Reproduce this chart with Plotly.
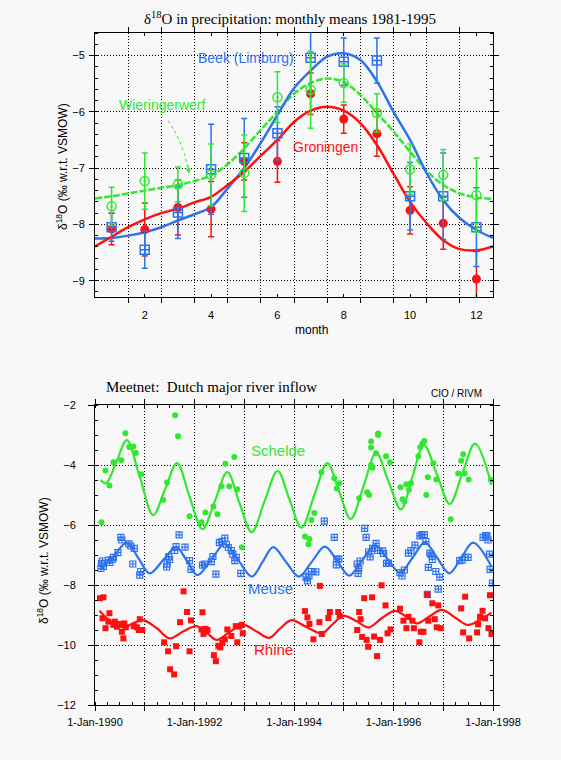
import plotly.graph_objects as go

# ---------------- top chart data (monthly means) ----------------
months = [1, 2, 3, 4, 5, 6, 7, 8, 9, 10, 11, 12]
beek = [-8.05, -8.45, -7.79, -7.02, -6.82, -6.38, -5.04, -5.11, -5.09, -7.50, -7.50, -8.05]
beek_err = [0.25, 0.33, 0.46, 0.80, 0.70, 0.47, 0.60, 0.42, 0.40, 0.60, 0.77, 0.70]
groningen = [-8.08, -8.09, -7.70, -7.73, -6.88, -6.88, -5.68, -6.13, -6.39, -7.75, -7.98, -8.97]
groningen_err = [0.28, 0.47, 0.49, 0.49, 0.33, 0.37, 0.37, 0.25, 0.40, 0.42, 0.46, 0.49]
wier = [-7.68, -7.23, -7.29, -7.12, -7.09, -5.74, -5.61, -5.49, -6.02, -7.02, -7.12, -7.48]
wier_err = [0.34, 0.50, 0.31, 0.55, 0.68, 0.45, 0.68, 0.34, 0.34, 0.45, 0.45, 0.66]

fit_month = [0.5, 1, 1.5, 2, 2.5, 3, 3.5, 4, 4.5, 5, 5.5, 6, 6.5, 7, 7.5, 8, 8.5, 9,
             9.5, 10, 10.5, 11, 11.5, 12, 12.5]
beek_fit = [-8.25, -8.24, -8.20, -8.14, -8.05, -7.93, -7.82, -7.69, -7.36, -7.00, -6.55,
            -6.06, -5.58, -5.27, -5.02, -4.96, -5.08, -5.46, -6.00, -6.50, -7.09, -7.57,
            -7.89, -8.10, -8.24]
groningen_fit = [-8.39, -8.22, -8.05, -7.91, -7.80, -7.72, -7.61, -7.51, -7.30, -7.07, -6.78,
                 -6.50, -6.18, -5.98, -5.91, -5.98, -6.20, -6.59, -7.10, -7.60, -7.98, -8.28,
                 -8.44, -8.46, -8.39]
wier_fit = [-7.54, -7.50, -7.45, -7.40, -7.35, -7.30, -7.23, -7.13, -6.93, -6.65, -6.32,
            -6.00, -5.68, -5.49, -5.41, -5.47, -5.70, -6.02, -6.35, -6.71, -7.05, -7.30,
            -7.45, -7.52, -7.55]

# ---------------- bottom chart data (river inflow) ----------------
schelde_t = [1990.13, 1990.21, 1990.29, 1990.37, 1990.53, 1990.61, 1990.69, 1990.77, 1990.82,
             1990.93, 1991.37, 1991.45, 1991.61, 1991.67, 1991.90, 1992.14, 1992.22, 1992.38,
             1992.46, 1992.54, 1992.62, 1992.70, 1992.80, 1992.86, 1992.95, 1994.22, 1994.31,
             1994.29, 1994.35, 1994.41, 1994.55, 1994.81, 1994.86, 1994.91, 1995.31, 1995.47,
             1995.51, 1995.55, 1995.58, 1995.55, 1995.55, 1995.69, 1995.69, 1995.65, 1995.85,
             1995.93, 1996.14, 1996.18, 1996.22, 1996.26, 1996.31, 1996.35, 1996.50, 1996.54,
             1996.58, 1996.62, 1996.80, 1996.69, 1996.66, 1996.86, 1997.15, 1997.30, 1997.36,
             1997.40, 1997.43, 1997.51, 1997.96]
schelde_v = [-5.91, -4.18, -4.68, -3.91, -3.84, -2.94, -3.40, -3.38, -3.60,
             -4.31, -5.16, -4.58, -2.34, -3.04, -5.71, -5.91, -5.58, -5.38,
             -5.64, -4.71, -3.96, -4.71, -3.73, -4.81, -6.74, -6.38, -6.47,
             -6.64, -5.83, -5.60, -4.24, -4.44, -4.78, -4.61, -5.11, -4.91,
             -5.00, -4.00, -4.09, -3.42, -3.22, -3.00, -2.95, -3.61, -3.71,
             -3.91, -4.74, -5.14, -5.22, -4.64, -4.83, -4.61, -3.71, -3.41,
             -3.28, -3.20, -3.94, -4.41, -5.00, -4.48, -5.81, -4.28, -3.86,
             -3.64, -4.28, -4.48, -4.50]

meuse_t = [1990.13, 1990.15, 1990.17, 1990.12, 1990.27, 1990.30, 1990.37, 1990.35, 1990.46,
           1990.52, 1990.54, 1990.68, 1990.72, 1990.79, 1990.76, 1990.90, 1990.92, 1991.48,
           1991.50, 1991.45, 1991.44, 1991.63, 1991.69, 1991.60, 1991.81, 1991.90, 1991.93,
           1992.16, 1992.20, 1992.34, 1992.37, 1992.43, 1992.50, 1992.55, 1992.61, 1992.64,
           1992.68, 1992.77, 1992.74, 1992.81, 1992.84, 1992.93, 1994.24, 1994.27, 1994.30,
           1994.35, 1994.44, 1994.61, 1994.81, 1994.86, 1994.90, 1994.85, 1995.27, 1995.29,
           1995.33, 1995.30, 1995.42, 1995.45, 1995.53, 1995.50, 1995.58, 1995.65, 1995.68,
           1995.78, 1995.80, 1995.86, 1995.90, 1996.13, 1996.17, 1996.22, 1996.30, 1996.35,
           1996.43, 1996.53, 1996.57, 1996.62, 1996.65, 1996.73, 1996.76, 1996.78, 1996.70,
           1996.85, 1996.93, 1996.68, 1996.90, 1997.33, 1997.38, 1997.44, 1997.50, 1997.80,
           1997.85, 1997.88, 1997.90, 1997.93, 1997.94, 1997.99]
meuse_v = [-7.28, -7.20, -7.38, -7.45, -7.17, -7.25, -7.08, -7.15, -6.92,
           -6.41, -6.50, -6.63, -6.70, -6.78, -7.30, -7.67, -7.55, -7.06,
           -7.15, -7.30, -7.40, -6.72, -6.33, -6.85, -6.74, -7.19, -7.48,
           -7.34, -7.30, -7.22, -7.05, -7.64, -6.59, -6.55, -6.44, -6.65,
           -6.75, -6.97, -6.85, -7.19, -7.08, -7.61, -7.74, -7.86, -7.70,
           -7.55, -7.56, -5.87, -6.41, -7.14, -7.14, -7.33, -7.30, -7.61,
           -7.20, -7.45, -6.11, -6.41, -7.06, -6.90, -6.78, -6.61, -6.85,
           -6.86, -6.95, -7.28, -7.27, -7.59, -7.70, -7.50, -6.94, -6.85,
           -6.67, -6.36, -6.32, -6.32, -6.55, -6.94, -7.00, -7.15, -7.41,
           -7.55, -7.74, -8.31, -8.14, -7.19, -7.17, -7.08, -7.08, -6.41,
           -6.35, -6.36, -6.50, -6.97, -7.48, -7.94]

rhine_t = [1990.10, 1990.17, 1990.29, 1990.15, 1990.21, 1990.27, 1990.37, 1990.40, 1990.44,
           1990.49, 1990.54, 1990.57, 1990.59, 1990.62, 1990.78, 1990.84, 1990.88, 1990.90,
           1990.95, 1991.39, 1991.47, 1991.51, 1991.59, 1991.63, 1991.71, 1991.78, 1991.85,
           1991.90, 1991.93, 1992.16, 1992.14, 1992.18, 1992.22, 1992.26, 1992.39, 1992.43,
           1992.48, 1992.52, 1992.56, 1992.61, 1992.66, 1992.74, 1992.83, 1992.86, 1992.90,
           1992.95, 1992.97, 1994.22, 1994.27, 1994.31, 1994.39, 1994.51, 1994.52, 1994.56,
           1994.69, 1994.72, 1994.89, 1994.92, 1995.27, 1995.31, 1995.34, 1995.37, 1995.41,
           1995.46, 1995.49, 1995.57, 1995.61, 1995.67, 1995.73, 1995.76, 1995.84, 1995.88,
           1995.94, 1996.13, 1996.20, 1996.26, 1996.30, 1996.38, 1996.41, 1996.52, 1996.55,
           1996.60, 1996.68, 1996.70, 1996.78, 1996.83, 1996.87, 1996.90, 1996.95, 1997.36,
           1997.40, 1997.44, 1997.52, 1997.68, 1997.70, 1997.74, 1997.79, 1997.84, 1997.91,
           1997.94, 1997.97]
rhine_v = [-8.44, -8.41, -8.94, -9.11, -9.44, -9.22, -9.33, -9.22, -9.39,
           -9.30, -9.56, -9.78, -9.28, -9.41, -9.37, -9.41, -9.50, -9.14,
           -9.50, -9.91, -10.21, -10.81, -10.98, -10.04, -9.24, -8.21, -8.90,
           -10.21, -9.18, -8.91, -9.48, -9.63, -9.46, -9.50, -10.34, -10.54,
           -10.03, -10.08, -9.92, -9.81, -9.48, -9.70, -9.37, -9.91, -9.39,
           -9.33, -9.61, -8.87, -9.08, -9.30, -9.81, -9.24, -8.03, -9.63,
           -9.10, -8.90, -8.90, -9.03, -9.50, -8.90, -9.14, -9.73, -8.44,
           -9.83, -10.06, -8.41, -9.72, -10.37, -9.83, -8.01, -8.68, -9.61,
           -9.48, -8.79, -9.19, -9.44, -9.06, -9.19, -9.44, -9.91, -9.56,
           -9.56, -8.33, -9.19, -8.61, -9.14, -9.41, -8.68, -9.44, -8.78,
           -9.58, -8.39, -9.78, -9.58, -9.31, -9.06, -8.86, -9.11, -9.44,
           -8.34, -9.63]

schelde_fit_t = [1990.11, 1990.22, 1990.43, 1990.64, 1990.90, 1991.17, 1991.41, 1991.65,
                 1991.90, 1992.16, 1992.41, 1992.66, 1992.90, 1993.15, 1993.41, 1993.67,
                 1993.91, 1994.15, 1994.41, 1994.67, 1994.90, 1995.14, 1995.40, 1995.65,
                 1995.90, 1996.15, 1996.38, 1996.61, 1996.87, 1997.13, 1997.38, 1997.64,
                 1997.97]
schelde_fit = [-4.50, -4.61, -3.90, -3.17, -4.40, -5.67, -4.80, -3.94,
               -5.05, -6.14, -5.20, -4.24, -5.25, -6.24, -5.20, -4.20,
               -5.15, -6.09, -5.00, -3.94, -4.85, -5.80, -4.70, -3.59,
               -4.55, -5.48, -4.40, -3.33, -4.30, -5.30, -4.30, -3.29,
               -4.67]
meuse_fit_t = [1990.10, 1990.37, 1990.64, 1990.87, 1991.10, 1991.37, 1991.63, 1991.85,
               1992.06, 1992.34, 1992.61, 1992.88, 1993.15, 1993.37, 1993.58, 1993.84,
               1994.10, 1994.36, 1994.62, 1994.87, 1995.11, 1995.37, 1995.63, 1995.88,
               1996.13, 1996.38, 1996.63, 1996.88, 1997.12, 1997.36, 1997.60, 1997.97]
meuse_fit = [-7.50, -7.05, -6.59, -7.10, -7.61, -7.17, -6.74, -7.20,
             -7.67, -7.15, -6.63, -7.17, -7.72, -7.23, -6.74, -7.23,
             -7.72, -7.22, -6.72, -7.20, -7.69, -7.18, -6.67, -7.13,
             -7.59, -7.10, -6.59, -7.10, -7.61, -7.10, -6.59, -7.39]
rhine_fit_t = [1990.09, 1990.30, 1990.57, 1990.80, 1990.97, 1991.25, 1991.50, 1991.77,
               1992.04, 1992.25, 1992.45, 1992.72, 1992.98, 1993.25, 1993.50, 1993.72,
               1993.95, 1994.25, 1994.56, 1994.78, 1994.99, 1995.25, 1995.50, 1995.77,
               1996.03, 1996.25, 1996.47, 1996.72, 1996.97, 1997.25, 1997.50, 1997.75,
               1997.97]
rhine_fit = [-8.86, -9.20, -9.41, -9.25, -9.17, -9.45, -9.78, -9.55,
             -9.37, -9.60, -9.83, -9.55, -9.33, -9.55, -9.76, -9.45,
             -9.17, -9.40, -9.61, -9.30, -9.03, -9.20, -9.41, -9.10,
             -8.86, -9.05, -9.28, -9.05, -8.83, -9.10, -9.33, -9.15,
             -8.92]

year_ticks = [1990, 1992, 1994, 1996, 1998]
year_labels = ["1-Jan-1990", "1-Jan-1992", "1-Jan-1994", "1-Jan-1996", "1-Jan-1998"]
odd_years = [1991, 1993, 1995, 1997]
month_ticks = [2, 4, 6, 8, 10, 12]
month_labels = ["2", "4", "6", "8", "10", "12"]
month_bounds = [0.5, 1.5, 2.5, 3.5, 4.5, 5.5, 6.5, 7.5, 8.5, 9.5, 10.5, 11.5, 12.5]

# ---------------- styling ----------------
RED = "#ff1010"
BLUE = "#2f72ee"
GREEN = "#30e830"
BG = "#f8f8f8"
SANS = "Liberation Sans, Arial, sans-serif"
SERIF = "Liberation Serif, Times New Roman, serif"
GRIDDASH = "1px,2px"

W, H = 561, 760
def px_x(p):
    return p / W
def px_y(p):
    return 1 - p / H

fig = go.Figure()

# top chart fits
fig.add_trace(go.Scatter(x=fit_month, y=wier_fit, mode="lines", line_shape="spline",
                         line=dict(color=GREEN, width=2.5, dash="7px,2px"),
                         xaxis="x", yaxis="y", hoverinfo="skip"))
fig.add_trace(go.Scatter(x=fit_month, y=beek_fit, mode="lines", line_shape="spline",
                         line=dict(color=BLUE, width=2.5), xaxis="x", yaxis="y"))
fig.add_trace(go.Scatter(x=fit_month, y=groningen_fit, mode="lines", line_shape="spline",
                         line=dict(color=RED, width=2.5), xaxis="x", yaxis="y"))
# top chart means with error bars
fig.add_trace(go.Scatter(x=months, y=groningen, mode="markers",
                         marker=dict(symbol="circle", size=9, color=RED),
                         error_y=dict(type="data", array=groningen_err, color=RED,
                                      thickness=1.5, width=3),
                         xaxis="x", yaxis="y"))
fig.add_trace(go.Scatter(x=months, y=beek, mode="markers",
                         marker=dict(symbol="square-cross-open", size=9, color=BLUE,
                                     line=dict(width=1.5, color=BLUE)),
                         error_y=dict(type="data", array=beek_err, color=BLUE,
                                      thickness=1.5, width=3),
                         xaxis="x", yaxis="y"))
fig.add_trace(go.Scatter(x=months, y=wier, mode="markers",
                         marker=dict(symbol="circle-open-dot", size=9, color=GREEN,
                                     line=dict(width=1.5, color=GREEN)),
                         error_y=dict(type="data", array=wier_err, color=GREEN,
                                      thickness=1.5, width=3),
                         xaxis="x", yaxis="y"))

# bottom chart
fig.add_trace(go.Scatter(x=schelde_t, y=schelde_v, mode="markers",
                         marker=dict(symbol="circle", size=6, color=GREEN),
                         xaxis="x2", yaxis="y2"))
fig.add_trace(go.Scatter(x=meuse_t, y=meuse_v, mode="markers",
                         marker=dict(symbol="square-cross-open", size=6, color=BLUE,
                                     line=dict(width=1.2, color=BLUE)),
                         xaxis="x2", yaxis="y2"))
fig.add_trace(go.Scatter(x=rhine_t, y=rhine_v, mode="markers",
                         marker=dict(symbol="square", size=6, color=RED),
                         xaxis="x2", yaxis="y2"))
fig.add_trace(go.Scatter(x=schelde_fit_t, y=schelde_fit, mode="lines", line_shape="spline",
                         line=dict(color=GREEN, width=2.2), xaxis="x2", yaxis="y2"))
fig.add_trace(go.Scatter(x=meuse_fit_t, y=meuse_fit, mode="lines", line_shape="spline",
                         line=dict(color=BLUE, width=2.2), xaxis="x2", yaxis="y2"))
fig.add_trace(go.Scatter(x=rhine_fit_t, y=rhine_fit, mode="lines", line_shape="spline",
                         line=dict(color=RED, width=2.2), xaxis="x2", yaxis="y2"))

axis_common = dict(showline=True, linecolor="black", linewidth=1, mirror="ticks",
                   zeroline=False, tickcolor="black", gridcolor="black", griddash=GRIDDASH,
                   gridwidth=1, automargin=False,
                   tickfont=dict(family=SANS, size=11, color="black"))

fig.update_layout(
    width=W, height=H, margin=dict(l=0, r=0, t=0, b=0, autoexpand=False),
    paper_bgcolor=BG, plot_bgcolor=BG, showlegend=False,
    xaxis=dict(domain=[px_x(95), px_x(493)], range=[0.5, 12.5], anchor="y",
               tickvals=month_ticks, ticktext=month_labels, ticks="inside", ticklen=3,
               showgrid=False, ticklabelstandoff=8,
               minor=dict(tickvals=month_bounds, ticks="outside",
                          ticklen=5, tickcolor="black", showgrid=True, gridcolor="black",
                          griddash=GRIDDASH, gridwidth=1),
               **axis_common),
    yaxis=dict(domain=[px_y(297), px_y(33)], range=[-9.29, -4.6], anchor="x",
               tickvals=[-9, -8, -7, -6, -5], ticks="outside", ticklen=5, showgrid=True,
               ticklabelstandoff=2,
               minor=dict(dtick=0.2, tick0=-9, ticks="inside", ticklen=3, tickcolor="black"),
               **axis_common),
    xaxis2=dict(domain=[px_x(95), px_x(493)], range=[1990, 1998], anchor="y2",
                tickvals=year_ticks, ticktext=year_labels, ticks="outside", ticklen=5,
                showgrid=True, ticklabelstandoff=2,
                minor=dict(dtick=0.25, tick0=1990, ticks="inside", ticklen=3,
                           tickcolor="black"),
                **axis_common),
    xaxis3=dict(domain=[px_x(95), px_x(493)], range=[1990, 1998], anchor="y2",
                overlaying="x2", tickvals=odd_years, showticklabels=False,
                ticks="outside", ticklen=5, tickcolor="black", showgrid=True,
                gridcolor="black", griddash=GRIDDASH, gridwidth=1, showline=False,
                zeroline=False, automargin=False, mirror="ticks"),
    yaxis2=dict(domain=[px_y(705), px_y(405)], range=[-12, -2], anchor="x2",
                tickvals=[-12, -10, -8, -6, -4, -2], ticks="outside", ticklen=6,
                showgrid=True, ticklabelstandoff=10,
                minor=dict(dtick=0.5, tick0=-12, ticks="inside", ticklen=3,
                           tickcolor="black"),
                **axis_common),
)

# an invisible trace so the overlaying year axis (odd-year grid lines) is drawn
fig.add_trace(go.Scatter(x=odd_years, y=[None] * len(odd_years), mode="markers",
                         xaxis="x3", yaxis="y2", hoverinfo="skip", showlegend=False))

def pann(text, x, y, size, family=SANS, color="black", **kw):
    d = dict(text=text, x=px_x(x), y=px_y(y), xref="paper", yref="paper",
             showarrow=False, yanchor="middle",
             font=dict(family=family, size=size, color=color))
    d.update(kw)
    return d

ann = []
ann.append(pann("δ<sup>18</sup>O in precipitation: monthly means 1981-1995", 290, 18, 15,
                family=SERIF, xanchor="center"))
ann.append(pann("δ<sup>18</sup>O (‰ w.r.t. VSMOW)", 62, 167, 12, textangle=-90,
                xanchor="center"))
ann.append(pann("month", 311, 330, 12, xanchor="center"))
ann.append(pann("Meetnet:  Dutch major river inflow", 104, 387, 15, family=SERIF,
                xanchor="left"))
ann.append(pann("CIO / RIVM", 484, 393, 10, xanchor="right"))
ann.append(pann("δ<sup>18</sup>O (‰ w.r.t. VSMOW)", 43, 561, 12, textangle=-90,
                xanchor="center"))

ann.append(dict(text="Beek (Limburg)", x=5.06, y=-5.04, xref="x", yref="y",
                showarrow=False, font=dict(family=SANS, size=14, color=BLUE)))
ann.append(dict(text="Wieringerwerf", x=2.53, y=-5.88, xref="x", yref="y",
                showarrow=False, font=dict(family=SANS, size=14, color=GREEN)))
ann.append(dict(text="Groningen", x=7.44, y=-6.63, xref="x", yref="y",
                showarrow=False, font=dict(family=SANS, size=14, color=RED)))
ann.append(dict(text="", x=3.33, y=-7.1, xref="x", yref="y", ax=-1, ay=-10,
                showarrow=True, arrowhead=2, arrowsize=1, arrowwidth=1,
                arrowcolor=GREEN))
ann.append(dict(text="Schelde", x=1993.68, y=-3.5, xref="x2", yref="y2", showarrow=False,
                font=dict(family=SANS, size=15, color=GREEN)))
ann.append(dict(text="Meuse", x=1993.53, y=-8.13, xref="x2", yref="y2", showarrow=False,
                font=dict(family=SANS, size=15, color=BLUE)))
ann.append(dict(text="Rhine", x=1993.59, y=-10.15, xref="x2", yref="y2", showarrow=False,
                font=dict(family=SANS, size=15, color=RED)))
fig.update_layout(annotations=ann)

# dotted curved pointer from the Wieringerwerf label
fig.add_shape(type="path", xref="x", yref="y",
              path="M 2.70 -6.16 Q 3.05 -6.45 3.22 -6.8 L 3.32 -7.05",
              line=dict(color=GREEN, width=1, dash="dot"))

fig.write_html("out.html", config={"displayModeBar": False},
               post_script="document.body.style.margin='0';document.body.style.padding='0';")
